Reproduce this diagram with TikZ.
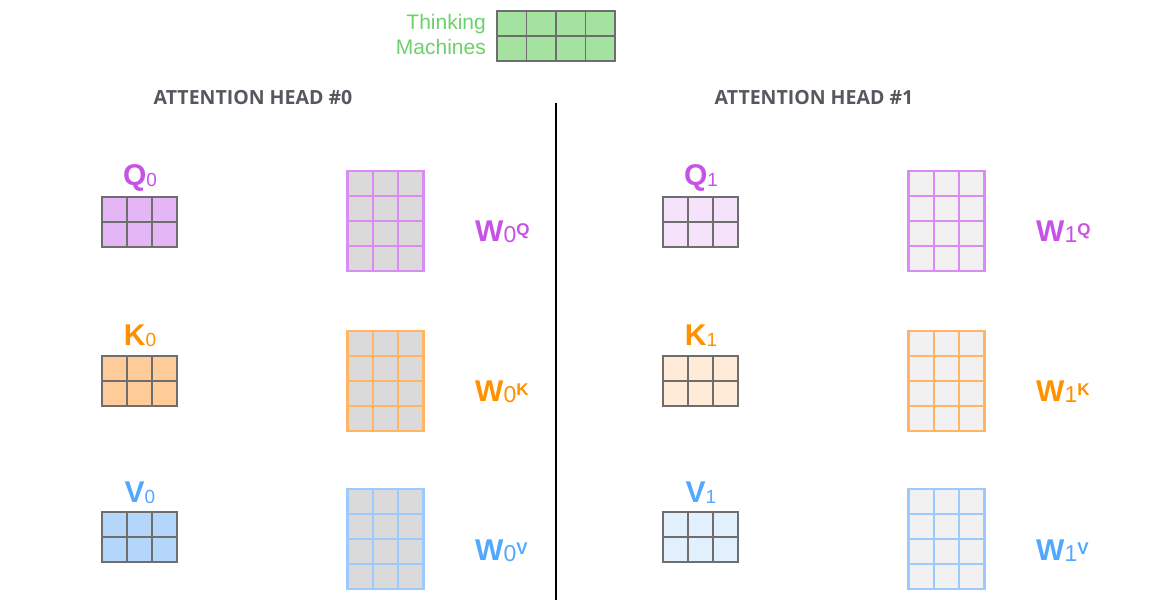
\documentclass[tikz,border=0pt]{standalone}
\usepackage{fontspec}
\setmainfont{Liberation Sans}
\newfontfamily\headfont{Open Sans}
\usetikzlibrary{positioning}

\definecolor{tmgreen}{HTML}{6CD16A}
\definecolor{xfill}{HTML}{A3E39F}
\definecolor{cellline}{HTML}{6E6E6E}
\definecolor{headgrey}{HTML}{55595F}
\definecolor{qcol}{HTML}{C653E6}
\definecolor{qfill}{HTML}{E5B6F6}
\definecolor{qline}{HTML}{D98CF1}
\definecolor{kcol}{HTML}{FF9000}
\definecolor{kfill}{HTML}{FFCB98}
\definecolor{kline}{HTML}{FFB466}
\definecolor{vcol}{HTML}{50A8FF}
\definecolor{vfill}{HTML}{B4D6FA}
\definecolor{vline}{HTML}{9CCAFF}
\definecolor{wgrey0}{HTML}{DADADA}
\definecolor{wgrey1}{HTML}{F1F1F1}

\newcommand\idx[2]{\raisebox{-1.5pt}{\mdseries\fontsize{#1}{#1}\selectfont #2}}
\newcommand\ups[1]{\raisebox{6pt}{\fontsize{17}{17}\selectfont #1}}

\tikzset{
    lbl/.style={font=\bfseries\fontsize{30}{30}\selectfont, inner sep=0pt},
    head/.style={font=\headfont\bfseries\fontsize{19.5}{19.5}\selectfont, text=headgrey, inner sep=0pt},
    cell/.style={draw=cellline, line width=1.1pt},
    wcell/.style={line width=2.6pt}
}

\begin{document}
\begin{tikzpicture}[x=1pt, y=-1pt]
    \useasboundingbox (0,0) rectangle (1170,600);
    % input words
    \node[font=\fontsize{21}{25}\selectfont, text=tmgreen, align=right, anchor=east, inner sep=0pt] (words) at (486,34) {Thinking\\Machines};
    \foreach \i in {0,...,3}
        \foreach \j in {0,1}
            \draw[cell, fill=xfill] (497+\i*29.5, 11+\j*25) rectangle ++(29.5,25);
    % divider between the heads
    \coordinate (divtop) at (556,103);
    \coordinate (divbot) at (556,600);
    \draw[line width=1.6pt] (divtop) -- (divbot);
    % the two heads
    \foreach \h/\dx/\pct/\wf in {0/0/100/wgrey0, 1/561/38/wgrey1} {
        \node[head] (head\h) at (253+\dx, 98) {ATTENTION HEAD \#\h};
        \foreach \m/\cc/\y/\ly/\wy/\wly in {Q/q/197/185/171/241, K/k/356/345/331/401, V/v/512/502/489/560} {
            \foreach \i in {0,1,2}
                \foreach \j in {0,1}
                    \draw[cell, fill=\cc fill!\pct!white] (102+\dx+\i*25, \y+\j*25) rectangle ++(25,25);
            \node[lbl, text=\cc col, anchor=base] (\m\h) at (140+\dx, \ly) {\m\idx{19}{\h}};
            \foreach \i in {0,1,2}
                \foreach \j in {0,...,3}
                    \draw[wcell, draw=\cc line, fill=\wf] (347.5+\dx+\i*25.3, \wy+\j*25) rectangle ++(25.3,25);
            \node[lbl, text=\cc col, anchor=base west] (W\m\h) at (475+\dx, \wly) {W\idx{23}{\h}\ups{\m}};
        }
    }
\end{tikzpicture}
\end{document}
